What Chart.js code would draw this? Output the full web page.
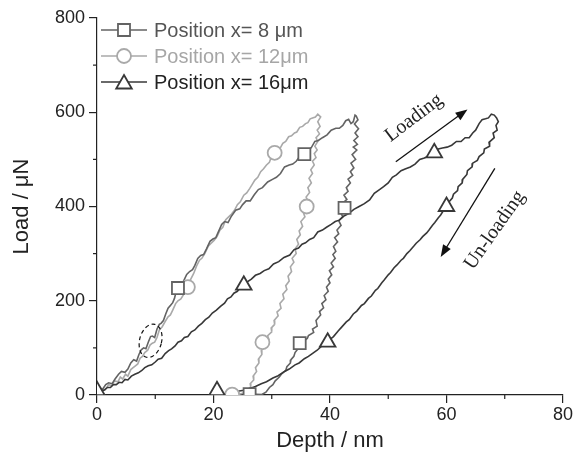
<!DOCTYPE html>
<html><head><meta charset="utf-8">
<style>html,body{margin:0;padding:0;background:#fff}canvas{display:block}</style>
<script src="https://cdn.jsdelivr.net/npm/chart.js@4/dist/chart.umd.min.js"></script>
</head><body>
<canvas id="c" width="574" height="463"></canvas>
<script>
// ---- data: [Depth (nm), Load (uN)] ----
const xTickVals = [0, 20, 40, 60, 80];
const yTickVals = [0, 200, 400, 600, 800];
const seriesNames = ['Position x= 8 \u03bcm', 'Position x= 12\u03bcm', 'Position x= 16\u03bcm'];

const s8Load = [[0,0],[0.5,10],[0.9,11],[1.5,22],[2.0,26],[2.6,24],[3.1,34],[3.7,44],[4.2,50],[4.8,48],
 [5.3,55],[5.8,68],[6.3,75],[6.8,72],[7.2,86],[7.6,96],[8.0,100],[8.4,98],[8.8,112],[9.2,124],
 [9.5,125],[9.9,122],[10.3,140],[10.7,150],[11.0,152],[11.4,158],[11.8,172],[12.2,184],[12.6,190],[13.0,196],
 [13.3,205],[13.6,220],[13.9,227],[14.4,232],[14.8,240],[15.4,256],[15.9,262],[16.4,266],[16.8,275],[17.3,290],
 [17.8,296],[18.3,298],[18.8,310],[19.4,326],[19.9,331],[20.4,334],[20.8,345],[21.4,362],[21.9,368],[22.5,366],
 [23.0,378],[23.8,392],[24.5,395],[25.0,404],[25.6,412],[26.3,412],[27.0,425],[27.7,436],[28.4,440],[29.3,452],
 [30.2,458],[30.8,462],[31.5,470],[32.2,484],[33.0,488],[33.6,490],[34.2,496],[34.9,508],[35.6,511],[36.2,518],
 [36.8,525],[37.4,538],[38.0,540],[38.7,546],[39.5,552],[40.2,562],[41.0,566],[41.6,566],[42.2,572],[42.7,582],
 [43.2,585],[43.6,576],[44.0,580],[44.3,594],[44.5,592]];
const s8Unload = [[44.8,584],[44.2,575],[44.9,565],[44.3,556],[44.8,548],[44.1,540],[44.7,532],[44.0,526],[44.6,520],[43.8,510],
 [44.4,500],[43.6,492],[44.1,482],[43.5,474],[43.9,466],[43.1,458],[43.5,450],[42.8,440],[43.1,432],[42.4,424],
 [42.9,415],[42.1,406],[42.5,397],[41.8,388],[42.2,378],[41.5,370],[41.9,360],[41.2,350],[41.5,342],[40.8,334],
 [41.3,325],[40.6,315],[41.0,305],[40.5,298],[40.9,290],[40.2,280],[40.6,272],[39.9,264],[40.3,255],[39.7,246],
 [40.0,238],[39.4,229],[39.7,220],[39.0,211],[39.3,202],[38.6,194],[38.9,185],[38.2,177],[38.4,170],[37.6,158],
 [37.8,146],[37.0,140],[37.2,133],[36.3,126],[36.1,120],[35.2,112],[34.9,106],[34.5,98],[34.0,90],[33.8,82],
 [33.3,75],[33.2,68],[32.6,60],[32.4,52],[31.7,45],[31.3,38],[30.6,30],[30.2,22],[29.6,16],[29.0,6],[28.3,1],[26.2,2]];

const s12Load = [[0,0],[0.7,14],[1.4,11],[2.0,22],[2.5,20],[3.0,30],[3.6,28],[4.0,38],[4.4,34],[4.9,44],
 [5.3,40],[5.8,54],[6.2,58],[6.6,62],[7.0,66],[7.4,78],[7.8,82],[8.2,90],[8.7,95],[9.1,106],
 [9.5,110],[9.9,112],[10.3,122],[10.7,138],[11.2,145],[11.7,156],[12.2,166],[12.6,170],[13.0,180],[13.5,194],
 [13.9,200],[14.4,204],[14.8,212],[15.2,226],[15.6,229],[16.1,246],[16.6,258],[17.1,274],[17.6,286],[18.0,290],
 [18.5,300],[19.1,316],[19.6,322],[20.1,328],[20.6,336],[21.1,350],[21.6,356],[22.1,372],[22.6,378],[23.1,384],
 [23.6,392],[24.1,404],[24.6,410],[25.2,424],[25.7,429],[26.2,438],[26.6,446],[27.1,456],[27.6,462],[28.1,474],
 [28.6,480],[29.1,488],[29.6,494],[30.0,508],[30.5,514],[31.0,518],[31.5,525],[31.9,534],[32.4,538],[32.9,548],
 [33.4,550],[33.9,556],[34.3,558],[34.8,568],[35.3,570],[35.8,576],[36.2,578],[36.6,586],[37.0,588],[37.5,590],[37.9,596]];
const s12Unload = [[38.4,590],[37.9,580],[38.3,570],[37.8,562],[38.2,554],[37.6,546],[37.9,538],[37.4,528],[37.8,520],[37.3,512],
 [37.6,504],[37.0,496],[37.3,488],[36.7,478],[37.0,470],[36.4,460],[36.8,450],[36.2,440],[36.5,430],[35.9,420],
 [36.3,410],[35.8,404],[36.0,398],[35.4,388],[35.7,378],[35.0,368],[35.3,358],[34.7,348],[34.9,340],[34.3,330],
 [34.6,320],[34.0,310],[34.2,300],[33.5,290],[33.8,282],[33.2,272],[33.4,262],[32.8,252],[33.0,242],[32.4,232],
 [32.6,224],[31.9,214],[32.1,204],[31.4,194],[31.6,184],[30.9,176],[31.1,168],[30.4,158],[30.5,150],[29.9,142],
 [30.0,134],[29.3,126],[29.5,118],[28.7,112],[28.9,104],[28.2,94],[28.3,86],[27.7,76],[27.8,68],[27.2,58],
 [27.4,50],[26.8,40],[26.9,32],[26.3,24],[26.4,17],[25.7,10],[25.2,4],[24.2,1],[23.2,1]];

const s16Load = [[0,0],[0.6,8],[1.2,10],[1.8,16],[2.3,16],[2.8,22],[3.3,22],[3.8,27],[4.3,26],[4.8,33],
 [5.3,32],[5.9,40],[6.5,44],[7.1,47],[7.7,52],[8.2,58],[8.8,62],[9.4,64],[10.0,70],[10.5,76],
 [11.1,78],[11.7,88],[12.3,94],[12.8,98],[13.4,104],[13.9,112],[14.5,115],[15.0,122],[15.6,124],[16.2,134],
 [16.8,138],[17.4,146],[18.0,152],[18.6,160],[19.2,165],[19.8,174],[20.5,180],[21.2,188],[21.9,195],[22.4,204],
 [23.0,208],[23.5,216],[24.1,220],[24.6,228],[25.2,233],[25.8,240],[26.5,246],[27.2,254],[28.0,258],[28.7,264],
 [29.5,268],[30.3,278],[31.2,283],[32.1,292],[33.1,297],[33.8,308],[34.6,312],[35.2,320],[35.8,323],[36.5,330],
 [37.2,334],[37.9,346],[38.7,350],[39.4,356],[40.2,362],[40.9,368],[41.6,371],[42.4,380],[43.2,385],[44.1,394],
 [45.0,400],[45.9,406],[46.8,414],[47.6,428],[48.5,436],[49.2,442],[50.0,450],[50.7,462],[51.4,467],[52.2,476],
 [53.0,480],[53.8,484],[54.6,490],[55.4,500],[56.2,503],[57.0,508],[57.9,514],[58.6,522],[59.3,524],[60.1,526],
 [60.9,530],[61.7,538],[62.5,538],[63.2,546],[63.9,546],[64.5,556],[65.0,562],[65.6,576],[66.1,584],[66.7,586],[67.2,588],[67.7,596],[68.2,594]];
const s16Unload = [[68.6,588],[68.9,580],[68.5,572],[68.7,562],[68.0,556],[68.2,546],[67.3,536],[67.4,528],[66.5,522],[66.4,514],
 [65.6,506],[65.3,498],[64.5,492],[64.4,484],[63.6,476],[63.5,468],[62.8,458],[62.7,450],[62.0,442],[61.9,434],
 [61.2,426],[61.0,418],[60.3,408],[60.0,399],[59.5,392],[59.0,382],[58.6,376],[58.0,366],[57.6,360],[57.0,350],
 [56.6,344],[55.9,336],[55.5,330],[54.8,322],[54.4,316],[53.7,306],[53.2,300],[52.6,290],[52.2,286],[51.5,276],
 [51.0,270],[50.4,260],[50.0,255],[49.3,244],[48.9,238],[48.2,226],[47.8,222],[47.1,210],[46.6,205],[45.9,194],
 [45.4,190],[44.6,178],[44.0,172],[43.3,160],[42.8,155],[42.0,144],[41.4,136],[40.6,124],[40.0,118],[39.2,108],
 [38.6,104],[37.8,95],[37.2,90],[36.3,82],[35.6,77],[34.7,68],[34.0,64],[33.0,55],[32.2,50],[31.1,41],
 [30.2,36],[29.1,28],[28.2,24],[27.2,18],[26.2,14],[25.2,10],[24.2,8],[23.3,5],[22.5,3],[21.6,1],[20.6,0]];

// marker positions
const m8 = [[13.9,227],[35.6,511],[42.5,397],[34.8,110],[26.2,2]];
const m12 = [[15.6,229],[30.5,514],[36.0,400],[28.4,112],[23.2,1]];
const m16 = [[0,9],[25.2,233],[57.9,514],[60.0,400],[39.6,112],[20.6,9]];

// annotations (data coordinates)
const loadArrow = [51.3, 495, 63.6, 606];
const unloadArrow = [68.3, 481, 59.0, 293];
const loadText = [54.4, 588];
const unloadText = [68.3, 350];
const circleMark = [9.2, 115];

const colors = ['#636363', '#a9a9a9', '#383838'];
const textColors = ['#555555', '#a6a6a6', '#222222'];
const styles = ['rect', 'circle', 'triangle'];
const radii = [8.5, 7, 9];
const SANS = '"Liberation Sans", Arial, Helvetica, sans-serif';

const pts = arr => arr.map(p => ({x: p[0], y: p[1]}));
function lineDs(load, unload, c) {
  return {data: pts(load.concat(unload)), showLine: true, borderColor: c, borderWidth: 1.6, pointRadius: 0, tension: 0, fill: false};
}
function markDs(arr, i) {
  return {data: pts(arr), showLine: false, pointStyle: styles[i], pointRadius: radii[i], pointHoverRadius: radii[i],
    pointBackgroundColor: '#ffffff', pointBorderColor: colors[i], pointBorderWidth: 1.8};
}

const AX = '#222222';
const extras = {
  id: 'extras',
  afterDraw(chart) {
    const ctx = chart.ctx, xs = chart.scales.x, ys = chart.scales.y, ca = chart.chartArea;
    ctx.save();
    // minor ticks
    ctx.strokeStyle = AX; ctx.lineWidth = 1.2;
    [10, 30, 50, 70].forEach(v => { const p = xs.getPixelForValue(v); ctx.beginPath(); ctx.moveTo(p, ca.bottom); ctx.lineTo(p, ca.bottom + 4); ctx.stroke(); });
    [100, 300, 500, 700].forEach(v => { const p = ys.getPixelForValue(v); ctx.beginPath(); ctx.moveTo(ca.left - 4, p); ctx.lineTo(ca.left, p); ctx.stroke(); });

    // legend
    const rowY = [30, 56, 82];
    for (let i = 0; i < 3; i++) {
      const y = rowY[i];
      ctx.strokeStyle = colors[i]; ctx.lineWidth = 1.5;
      ctx.beginPath(); ctx.moveTo(101, y); ctx.lineTo(147, y); ctx.stroke();
      ctx.fillStyle = '#ffffff'; ctx.strokeStyle = colors[i]; ctx.lineWidth = 1.8;
      Chart.helpers.drawPoint(ctx, {pointStyle: styles[i], radius: radii[i], borderWidth: 1.8, rotation: 0}, 124, y + (i === 2 ? 2 : 0));
      ctx.fillStyle = textColors[i];
      ctx.font = '20px ' + SANS;
      ctx.textAlign = 'left'; ctx.textBaseline = 'middle';
      ctx.fillText(seriesNames[i], 154, y + 1);
    }

    // arrows
    function arrow(a) {
      const x1 = xs.getPixelForValue(a[0]), y1 = ys.getPixelForValue(a[1]);
      const x2 = xs.getPixelForValue(a[2]), y2 = ys.getPixelForValue(a[3]);
      const ang = Math.atan2(y2 - y1, x2 - x1), L = 12, W = 4.5;
      ctx.strokeStyle = '#111'; ctx.fillStyle = '#111'; ctx.lineWidth = 1.3;
      ctx.beginPath(); ctx.moveTo(x1, y1); ctx.lineTo(x2 - Math.cos(ang) * L * 0.8, y2 - Math.sin(ang) * L * 0.8); ctx.stroke();
      ctx.beginPath(); ctx.moveTo(x2, y2);
      ctx.lineTo(x2 - Math.cos(ang) * L + Math.sin(ang) * W, y2 - Math.sin(ang) * L - Math.cos(ang) * W);
      ctx.lineTo(x2 - Math.cos(ang) * L - Math.sin(ang) * W, y2 - Math.sin(ang) * L + Math.cos(ang) * W);
      ctx.closePath(); ctx.fill();
    }
    arrow(loadArrow); arrow(unloadArrow);

    // rotated labels
    ctx.fillStyle = '#222'; ctx.font = '20px "Liberation Serif", "Times New Roman", serif';
    ctx.textAlign = 'center'; ctx.textBaseline = 'middle';
    ctx.save(); ctx.translate(xs.getPixelForValue(loadText[0]), ys.getPixelForValue(loadText[1])); ctx.rotate(-37 * Math.PI / 180); ctx.fillText('Loading', 0, 0); ctx.restore();
    ctx.save(); ctx.translate(xs.getPixelForValue(unloadText[0]), ys.getPixelForValue(unloadText[1])); ctx.rotate(-55 * Math.PI / 180); ctx.fillText('Un-loading', 0, 0); ctx.restore();

    // dashed ellipse
    ctx.strokeStyle = '#111'; ctx.lineWidth = 1.2; ctx.setLineDash([4, 3]);
    ctx.beginPath(); ctx.ellipse(xs.getPixelForValue(circleMark[0]), ys.getPixelForValue(circleMark[1]), 11, 17, 0.25, 0, Math.PI * 2); ctx.stroke();
    ctx.setLineDash([]);
    ctx.restore();
  }
};

new Chart(document.getElementById('c'), {
  type: 'scatter',
  data: {
    datasets: [
      markDs(m16, 2), markDs(m8, 0), markDs(m12, 1),
      lineDs(s16Load, s16Unload, colors[2]), lineDs(s8Load, s8Unload, colors[0]), lineDs(s12Load, s12Unload, colors[1])
    ]
  },
  options: {
    responsive: false, animation: false, devicePixelRatio: 1,
    layout: {padding: {top: 18, right: 10, left: 0, bottom: 0}},
    plugins: {legend: {display: false}, tooltip: {enabled: false}},
    scales: {
      x: {
        type: 'linear', min: 0, max: 80,
        afterFit: s => { s.height = 68; },
        afterBuildTicks: s => { s.ticks = xTickVals.map(v => ({value: v})); },
        ticks: {font: {size: 18, family: SANS}, color: AX, padding: 1, maxRotation: 0},
        grid: {drawOnChartArea: false, drawTicks: true, tickLength: 8, color: AX, lineWidth: 1.2},
        border: {color: AX, width: 1.2},
        title: {display: true, text: 'Depth / nm', color: AX, font: {size: 22, family: SANS}, padding: {top: 0, bottom: 9}}
      },
      y: {
        type: 'linear', min: 0, max: 800,
        afterFit: s => { s.width = 97; },
        afterBuildTicks: s => { s.ticks = yTickVals.map(v => ({value: v})); },
        ticks: {font: {size: 18, family: SANS}, color: AX, padding: 4},
        grid: {drawOnChartArea: false, drawTicks: true, tickLength: 8, color: AX, lineWidth: 1.2},
        border: {color: AX, width: 1.2},
        title: {display: true, text: 'Load / \u03bcN', color: AX, font: {size: 22, family: SANS}, padding: {top: 9, bottom: 0}}
      }
    }
  },
  plugins: [extras]
});
</script>
</body></html>
